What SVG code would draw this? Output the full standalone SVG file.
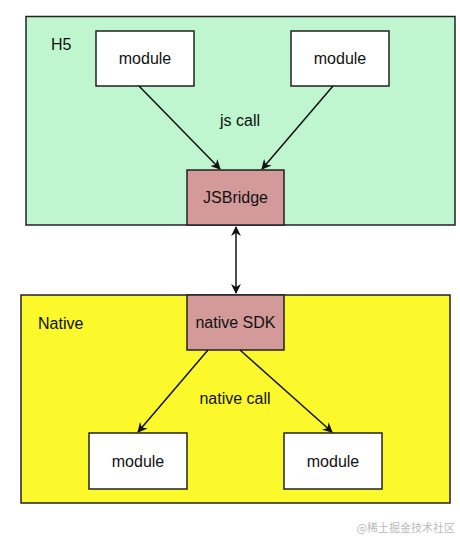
<svg xmlns="http://www.w3.org/2000/svg" width="460" height="536" viewBox="0 0 460 536">
<style>
text{font-family:"Liberation Sans",Arial,sans-serif;font-size:16px;fill:#111;}
.c{text-anchor:middle;}
.box{stroke:#222;stroke-width:1.5;}
.mod{fill:#fff;}
.br{fill:#d49a9a;}
.ln{stroke:#111;stroke-width:1.5;fill:none;}
</style>
<defs>
<marker id="ah" viewBox="0 0 10 10" refX="9" refY="5" markerWidth="10" markerHeight="10" markerUnits="userSpaceOnUse" orient="auto-start-reverse">
<path d="M0,0 L10,5 L0,10 L3,5 Z" fill="#111"/>
</marker>
</defs>
<rect width="460" height="536" fill="#fff"/>
<g id="h5">
<rect class="box" x="26" y="16.5" width="429" height="208.5" fill="#bff6cf"/>
<text x="51" y="50">H5</text>
</g>
<g id="native">
<rect class="box" x="21" y="295" width="429" height="208" fill="#fbf82c"/>
<text x="38" y="329">Native</text>
</g>
<g id="h5-module-left">
<rect class="box mod" x="96" y="31" width="98" height="55"/>
<text class="c" x="145" y="64">module</text>
</g>
<g id="h5-module-right">
<rect class="box mod" x="291" y="31" width="98" height="55"/>
<text class="c" x="340" y="64">module</text>
</g>
<g id="jsbridge">
<rect class="box br" x="187" y="170" width="97" height="55"/>
<text class="c" x="235.5" y="203">JSBridge</text>
</g>
<g id="native-sdk">
<rect class="box br" x="187" y="295" width="97" height="55"/>
<text class="c" x="235.5" y="328">native SDK</text>
</g>
<g id="native-module-left">
<rect class="box mod" x="89" y="433" width="98" height="56"/>
<text class="c" x="138" y="467">module</text>
</g>
<g id="native-module-right">
<rect class="box mod" x="284" y="433" width="98" height="56"/>
<text class="c" x="333" y="467">module</text>
</g>
<g id="connectors">
<line class="ln" x1="139" y1="86" x2="220" y2="169" marker-end="url(#ah)"/>
<line class="ln" x1="333" y1="86" x2="262" y2="169" marker-end="url(#ah)"/>
<line class="ln" x1="236" y1="227" x2="236" y2="293" marker-start="url(#ah)" marker-end="url(#ah)"/>
<line class="ln" x1="208" y1="350" x2="138" y2="432" marker-end="url(#ah)"/>
<line class="ln" x1="240" y1="350" x2="332" y2="432" marker-end="url(#ah)"/>
<text class="c" x="240" y="126">js call</text>
<text class="c" x="235" y="404">native call</text>
</g>
<text x="455" y="532" style="font-family:'Noto Sans CJK SC',sans-serif;font-size:11px;fill:#bbb;text-anchor:end">@稀土掘金技术社区</text>
</svg>
